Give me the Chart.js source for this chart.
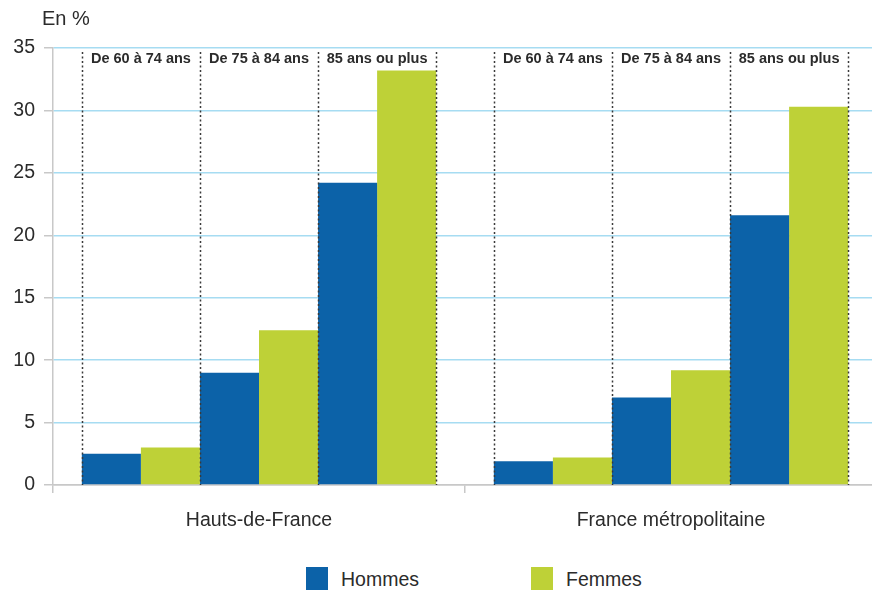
<!DOCTYPE html>
<html>
<head>
<meta charset="utf-8">
<script src="https://cdn.jsdelivr.net/npm/chart.js@4"></script>
<style>
  html, body { margin: 0; padding: 0; background: #fff; overflow: hidden; }
  body { width: 872px; height: 594px; position: relative; font-family: "Liberation Sans", Arial, sans-serif; color: #2b2b2b; }
  #wrap { position: absolute; left: 0; top: 0; width: 877px; height: 545px; }
  #unit { position: absolute; left: 42px; top: 5px; font-size: 20px; line-height: 26px; }
  .leg { position: absolute; top: 567px; height: 23px; font-size: 19.5px; line-height: 24px; }
  .leg span.box { position: absolute; left: 0; top: 0; width: 22px; height: 23px; }
  .leg span.txt { position: absolute; left: 35px; top: 0; white-space: nowrap; }
</style>
</head>
<body>
<div id="wrap"><canvas id="myChart" width="877" height="545"></canvas></div>
<div id="unit">En %</div>
<div class="leg" style="left:306px"><span class="box" style="background:#0c62a8"></span><span class="txt">Hommes</span></div>
<div class="leg" style="left:531px"><span class="box" style="background:#bed137"></span><span class="txt">Femmes</span></div>
<script>
const regions = ['Hauts-de-France', 'France métropolitaine'];
const ageGroups = ['De 60 à 74 ans', 'De 75 à 84 ans', '85 ans ou plus'];
const yTicks = [0, 5, 10, 15, 20, 25, 30, 35];

// values per age group, in %
const hommesHdF = [2.5, 9.0, 24.2];
const femmesHdF = [3.0, 12.4, 33.2];
const hommesFM = [1.9, 7.0, 21.6];
const femmesFM = [2.2, 9.2, 30.3];

const blue = '#0c62a8';
const green = '#bed137';
const fontName = '"Liberation Sans", Arial, sans-serif';

// one dataset per sex and age group, each holding [HdF, FM]
const datasets = [];
ageGroups.forEach((age, k) => {
    datasets.push({ label: 'Hommes ' + age, data: [hommesHdF[k], hommesFM[k]], backgroundColor: blue });
    datasets.push({ label: 'Femmes ' + age, data: [femmesHdF[k], femmesFM[k]], backgroundColor: green });
});

// dotted separators and age labels on top of each group
const ageSeparators = {
    id: 'ageSeparators',
    afterDatasetsDraw(chart) {
        const ctx = chart.ctx;
        const area = chart.chartArea;
        ctx.save();
        regions.forEach((r, i) => {
            const edges = [];
            for (let k = 0; k < ageGroups.length; k++) {
                const bar = chart.getDatasetMeta(2 * k).data[i];
                edges.push(bar.x - bar.width / 2);
            }
            const lastBar = chart.getDatasetMeta(2 * ageGroups.length - 1).data[i];
            edges.push(lastBar.x + lastBar.width / 2);

            ctx.strokeStyle = '#3a3a3a';
            ctx.lineWidth = 1.5;
            ctx.setLineDash([2, 2.5]);
            edges.forEach(x => {
                ctx.beginPath();
                ctx.moveTo(Math.round(x) + 0.5, area.top + 4);
                ctx.lineTo(Math.round(x) + 0.5, area.bottom);
                ctx.stroke();
            });

            ctx.setLineDash([]);
            ctx.fillStyle = '#2b2b2b';
            ctx.font = 'bold 14.5px ' + fontName;
            ctx.textAlign = 'center';
            ctx.textBaseline = 'middle';
            ageGroups.forEach((age, k) => {
                ctx.fillText(age, (edges[k] + edges[k + 1]) / 2, area.top + 11);
            });
        });
        ctx.restore();
    }
};

const ctx = document.getElementById('myChart').getContext('2d');
const myChart = new Chart(ctx, {
    type: 'bar',
    data: { labels: regions, datasets: datasets },
    options: {
        responsive: false,
        animation: false,
        categoryPercentage: 0.86,
        barPercentage: 1.0,
        layout: { padding: { top: 48, right: 0, left: 0, bottom: 0 } },
        plugins: {
            legend: { display: false },
            tooltip: { enabled: false }
        },
        scales: {
            x: {
                grid: {
                    drawOnChartArea: false,
                    drawTicks: true,
                    tickLength: 8,
                    tickColor: '#c8c8c8',
                    lineWidth: 1.5
                },
                border: { color: '#c8c8c8', width: 1.5 },
                ticks: { color: '#2b2b2b', font: { family: fontName, size: 19.5 }, padding: 16 },
                afterFit: s => { s.height = 60; }
            },
            y: {
                min: 0,
                max: 35,
                afterBuildTicks: s => { s.ticks = yTicks.map(v => ({ value: v })); },
                grid: {
                    color: c => c.tick.value === 0 ? '#c8c8c8' : '#a6dcf2',
                    lineWidth: 1.5,
                    tickLength: 9,
                    tickColor: '#c8c8c8'
                },
                border: { color: '#c8c8c8', width: 1.5 },
                ticks: { color: '#2b2b2b', font: { family: fontName, size: 19.5 }, padding: 9 },
                afterFit: s => { s.width = 53; }
            }
        }
    },
    plugins: [ageSeparators]
});
</script>
</body>
</html>
